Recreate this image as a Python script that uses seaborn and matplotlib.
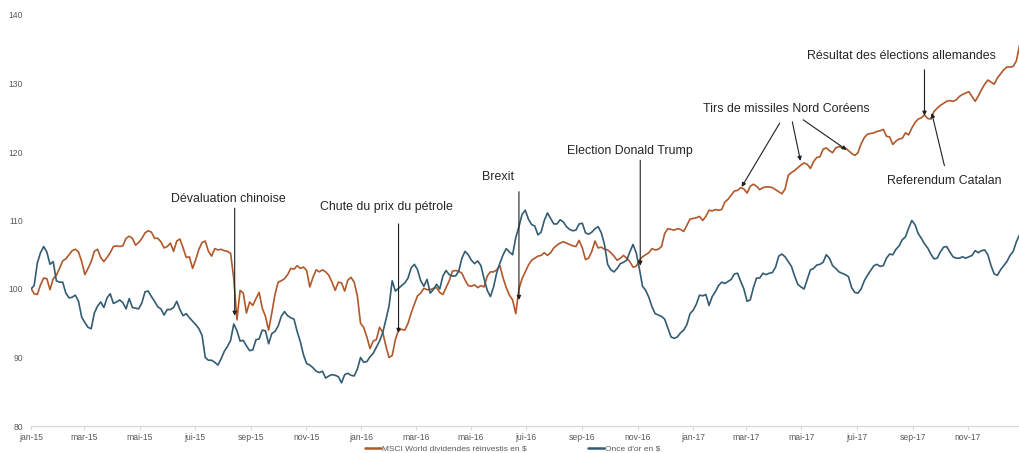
import matplotlib
matplotlib.use("Agg")
import matplotlib.pyplot as plt
import pandas as pd
import seaborn as sns

# ---------------- data (semi-weekly readings, base 100 = 1 Jan 2015) ----------------
msci = [
    100.1, 99.3, 99.2, 100.6, 101.6, 101.5, 99.9, 101.5, 102.0, 103.0,
    104.1, 104.4, 105.0, 105.6, 105.8, 105.4, 104.0, 102.1, 103.0, 104.0,
    105.5, 105.8, 104.6, 104.0, 104.6, 105.3, 106.2, 106.3, 106.2, 106.3,
    107.4, 107.7, 107.4, 106.4, 106.8, 107.4, 108.2, 108.5, 108.3, 107.4,
    107.4, 106.9, 106.0, 106.2, 106.7, 105.5, 107.0, 107.3, 106.0, 104.6,
    104.7, 103.0, 104.3, 105.8, 106.8, 107.0, 105.5, 104.8, 105.9, 105.7,
    105.8, 105.6, 105.5, 105.2, 101.5, 95.5, 99.8, 99.4, 96.5, 98.1,
    97.6, 98.6, 99.5, 97.2, 96.0, 94.0, 96.5, 99.2, 101.0, 101.2,
    101.5, 102.1, 103.0, 102.9, 103.4, 103.0, 103.2, 102.7, 100.3, 101.7,
    102.8, 102.5, 102.8, 102.5, 102.0, 101.0, 99.8, 101.0, 100.9, 99.7,
    101.3, 101.7, 101.0, 99.0, 95.0, 94.4, 93.0, 91.3, 92.4, 92.6,
    94.4, 93.7, 91.7, 90.0, 90.3, 92.6, 94.0, 94.1, 94.0, 95.0,
    96.5, 97.8, 99.0, 99.4, 100.1, 99.9, 99.9, 100.1, 100.2, 99.5,
    99.2, 100.2, 101.2, 102.6, 102.7, 102.6, 102.3, 101.3, 100.5, 100.4,
    100.6, 100.2, 100.5, 100.3, 101.9, 102.5, 102.5, 102.8, 103.4, 101.6,
    100.2, 99.1, 98.4, 96.4, 100.0, 101.5, 102.5, 103.5, 104.2, 104.5,
    104.8, 104.9, 105.3, 104.9, 105.3, 106.0, 106.4, 106.7, 106.9, 106.7,
    106.5, 106.3, 106.2, 107.1, 106.0, 104.3, 104.5, 105.5, 107.0, 106.0,
    106.1, 105.8, 105.7, 105.3, 104.8, 104.2, 104.5, 104.9, 104.5, 104.0,
    103.2, 103.3, 104.2, 104.7, 105.0, 105.3, 105.9, 105.7, 105.8, 106.2,
    108.1, 108.8, 108.7, 108.6, 108.8, 108.7, 108.4, 109.3, 110.2, 110.3,
    110.4, 110.6, 110.0, 110.6, 111.5, 111.4, 111.6, 111.5, 111.6, 112.7,
    113.1, 113.7, 114.3, 114.4, 114.8, 114.6, 114.0, 115.0, 115.3, 115.0,
    114.5, 114.8, 114.9, 114.9, 114.8, 114.5, 114.2, 113.9, 114.6, 116.6,
    117.0, 117.3, 117.7, 118.1, 118.4, 118.2, 117.6, 118.6, 119.2, 119.3,
    120.4, 120.6, 120.2, 119.9, 120.6, 120.8, 120.6, 120.6, 120.2, 119.8,
    119.5, 119.9, 121.2, 122.1, 122.6, 122.7, 122.8, 123.0, 123.1, 123.3,
    122.3, 122.2, 121.1, 121.6, 121.9, 122.0, 122.8, 122.5, 123.5, 124.3,
    124.8, 125.0, 125.4, 124.9, 124.8, 125.9, 126.4, 126.8, 127.1, 127.4,
    127.5, 127.4, 127.6, 128.1, 128.4, 128.6, 128.8, 128.1, 127.4, 128.2,
    129.1, 129.9, 130.5, 130.2, 129.9, 130.8, 131.4, 132.0, 132.4, 132.4,
    132.5, 133.3, 135.6,
]

gold = [
    100.0, 100.5, 103.8, 105.3, 106.2, 105.4, 103.6, 104.0, 101.2, 101.0,
    101.0, 99.4, 98.7, 98.8, 99.1, 98.2, 95.9, 95.1, 94.4, 94.2,
    96.5, 97.5, 98.1, 97.3, 98.7, 99.3, 97.9, 98.1, 98.4, 98.0,
    97.1, 98.6, 97.3, 97.2, 97.1, 98.0, 99.6, 99.7, 98.9, 98.2,
    97.4, 97.1, 96.2, 97.0, 97.0, 97.3, 98.2, 97.0, 96.1, 96.4,
    95.8, 95.3, 94.8, 94.2, 93.2, 90.0, 89.6, 89.6, 89.3, 88.9,
    89.8, 90.9, 91.6, 92.5, 94.9, 93.9, 92.4, 92.5, 91.7, 91.0,
    91.1, 92.6, 92.7, 94.0, 93.9, 92.0, 93.5, 93.8, 94.6, 96.0,
    96.7, 96.1, 95.8, 95.6, 93.8, 92.3, 90.4, 89.1, 88.9, 88.5,
    88.0, 87.8, 88.0, 87.0, 87.3, 87.5, 87.4, 87.2, 86.3, 87.5,
    87.7, 87.4, 87.3, 88.3, 90.0, 89.3, 89.4, 90.1, 90.6, 91.5,
    92.4, 93.6, 95.5, 97.5, 101.2, 99.7, 100.1, 100.5, 100.9, 101.6,
    103.1, 103.6, 102.8, 101.2, 100.4, 101.4, 99.4, 99.9, 100.7, 100.0,
    101.9, 102.7, 102.1, 101.9, 101.9, 102.6, 104.5, 105.5, 105.0, 104.2,
    103.7, 104.1, 103.4, 101.5, 99.8, 98.9, 100.3, 102.4, 103.8, 105.0,
    105.9, 105.4, 105.0, 107.5, 109.1, 110.9, 111.5, 110.2, 109.4, 109.2,
    107.9, 108.3, 110.0, 111.1, 110.3, 109.5, 109.5, 110.1, 109.8, 109.1,
    108.7, 108.5, 108.6, 109.5, 109.6, 108.2, 108.0, 108.3, 108.8, 109.1,
    108.2, 106.5, 103.6, 102.8, 102.5, 103.0, 103.7, 103.9, 104.2, 105.4,
    106.5, 105.3, 103.0, 100.4, 99.8, 98.8, 97.4, 96.4, 96.2, 96.0,
    95.6, 94.3, 93.0, 92.8, 93.0, 93.6, 94.0, 94.8, 96.4, 96.9,
    97.8, 99.1, 99.0, 99.2, 97.6, 98.9, 99.6, 100.5, 101.0, 100.8,
    101.1, 101.4, 102.2, 102.3, 101.1, 100.0, 98.2, 98.4, 100.2, 101.6,
    101.6, 102.3, 102.1, 102.3, 102.4, 103.2, 104.8, 105.1, 104.7, 104.0,
    103.3, 101.9, 100.7, 100.3, 100.0, 101.4, 102.8, 103.0, 103.5, 103.6,
    103.9, 105.0, 104.5, 103.4, 103.0, 102.5, 102.3, 102.1, 101.8, 100.2,
    99.5, 99.4, 100.0, 101.2, 102.0, 102.7, 103.4, 103.6, 103.3, 103.4,
    104.5, 105.1, 105.0, 105.8, 106.3, 107.2, 107.6, 108.9, 110.0, 109.4,
    108.1, 107.4, 106.6, 106.0, 105.1, 104.4, 104.5, 105.4, 106.1, 106.2,
    105.4, 104.7, 104.5, 104.5, 104.7, 104.5, 104.7, 104.9, 105.6, 105.3,
    105.6, 105.7, 105.0, 103.4, 102.2, 102.0, 102.8, 103.4, 104.0, 104.9,
    105.5, 106.9, 107.9,
]

series_names = ["MSCI World dividendes réinvestis en $", "Once d'or en $"]
series_colors = ["#B0582A", "#325C73"]

tick_labels = ["jan-15", "mar-15", "mai-15", "jui-15", "sep-15", "nov-15",
               "jan-16", "mar-16", "mai-16", "jui-16", "sep-16", "nov-16",
               "jan-17", "mar-17", "mai-17", "jui-17", "sep-17", "nov-17"]
y_ticks = [80, 90, 100, 110, 120, 130, 140]

event_labels = ["Dévaluation chinoise", "Chute du prix du pétrole", "Brexit",
                "Election Donald Trump", "Tirs de missiles Nord Coréens",
                "Résultat des élections allemandes", "Referendum Catalan"]
event_label_dates = ["2015-08-07", "2016-01-29", "2016-05-31", "2016-10-23",
                     "2017-04-14", "2017-08-19", "2017-10-06"]
event_label_values = [113.1, 111.9, 116.4, 120.1, 126.3, 134.0, 115.8]

arrow_from_dates = ["2015-08-14", "2016-02-11", "2016-06-23", "2016-11-04",
                    "2017-04-07", "2017-04-21", "2017-05-03", "2017-09-14", "2017-10-06"]
arrow_from_values = [111.8, 109.5, 114.2, 118.8, 124.2, 124.4, 124.7, 132.0, 118.0]
arrow_to_dates = ["2015-08-14", "2016-02-11", "2016-06-23", "2016-11-04",
                  "2017-02-24", "2017-04-30", "2017-06-20", "2017-09-14", "2017-09-22"]
arrow_to_values = [96.1, 93.6, 98.4, 103.4, 114.9, 118.7, 120.3, 125.3, 125.7]

# ---------------- build table ----------------
frames = []
for name, vals in zip(series_names, [msci, gold]):
    d = pd.date_range("2015-01-01", periods=len(vals), freq="84h")
    frames.append(pd.DataFrame({"date": d, "valeur": vals, "serie": name}))
df = pd.concat(frames, ignore_index=True)

# ---------------- style ----------------
sns.set_theme(style="white")
plt.rcParams["font.family"] = ["Liberation Sans", "DejaVu Sans"]

fig = plt.figure(figsize=(10.2, 4.53), dpi=100)
ax = fig.add_axes([31 / 1020, 27 / 453, 989 / 1020, 411 / 453])

sns.lineplot(data=df, x="date", y="valeur", hue="serie",
             palette=dict(zip(series_names, series_colors)),
             linewidth=1.2, ax=ax, legend=True)

handles, labels = ax.get_legend_handles_labels()
ax.get_legend().remove()

ax.set_xlim(pd.Timestamp("2015-01-01"), df["date"].max() + pd.Timedelta(hours=12))
ax.set_ylim(80, 140)
ax.set_yticks(y_ticks)
ax.set_xticks(pd.date_range("2015-01-01", "2017-11-01", freq="2MS"))
ax.set_xticklabels(tick_labels)
ax.set_xlabel("")
ax.set_ylabel("")

for s in ["left", "top", "right"]:
    ax.spines[s].set_visible(False)
ax.spines["bottom"].set_color("#d9d9d9")
ax.spines["bottom"].set_linewidth(1.0)
ax.tick_params(axis="x", length=3, width=0.8, color="#d9d9d9", labelsize=6.2,
               labelcolor="#595959", pad=2, bottom=True)
ax.tick_params(axis="y", length=0, labelsize=6.2, labelcolor="#595959", pad=5.6)

# annotations
for lab, d, v in zip(event_labels, event_label_dates, event_label_values):
    ax.text(pd.Timestamp(d), v, lab, ha="center", va="center",
            fontsize=8.9, color="#262626")
for d0, v0, d1, v1 in zip(arrow_from_dates, arrow_from_values, arrow_to_dates, arrow_to_values):
    ax.annotate("", xy=(pd.Timestamp(d1), v1), xytext=(pd.Timestamp(d0), v0),
                arrowprops=dict(arrowstyle="-|>", color="#1f1f1f", lw=0.8,
                                mutation_scale=6, shrinkA=0, shrinkB=0))

leg = fig.legend(handles, labels, loc="center", bbox_to_anchor=(0.5025, 0.0095),
                 ncol=2, frameon=False, fontsize=6, handlelength=1.9,
                 handletextpad=0.1, columnspacing=7.4, borderpad=0)
for t in leg.get_texts():
    t.set_color("#595959")
for h in leg.legend_handles:
    h.set_linewidth(1.8)

fig.savefig("out.png", dpi=100)
